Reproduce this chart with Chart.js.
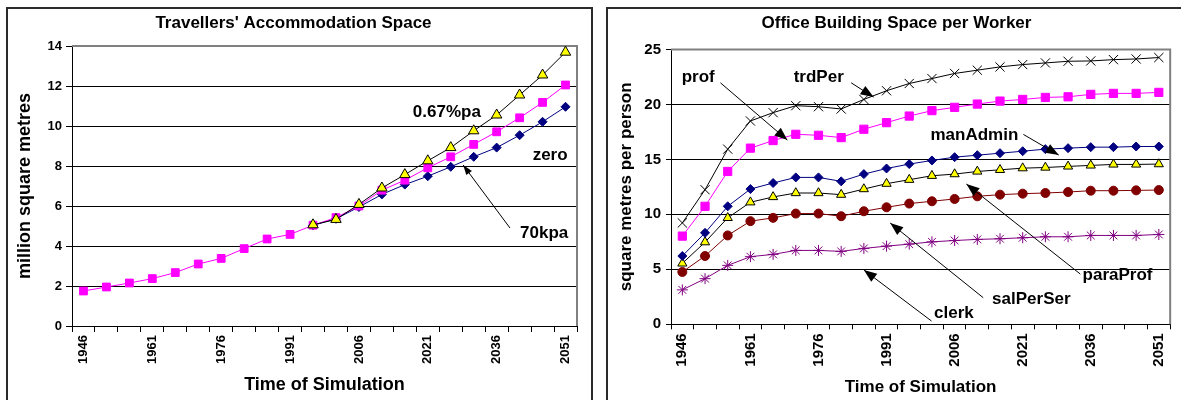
<!DOCTYPE html>
<html>
<head>
<meta charset="utf-8">
<script src="https://cdn.jsdelivr.net/npm/chart.js@4.4.0/dist/chart.umd.min.js"></script>
<style>
  body { margin: 0; width: 1181px; height: 400px; overflow: hidden; background: #fff; position: relative; }
  .panel { position: absolute; top: 7px; height: 430px; border: 2px solid #2b2b2b; box-sizing: border-box; }
  #panelA { left: 6px; width: 587px; }
  #panelB { left: 606px; width: 620px; }
  canvas { position: absolute; top: 0; }
  #accom { left: 0; }
  #office { left: 600px; }
</style>
</head>
<body>
<div class="panel" id="panelA"></div>
<div class="panel" id="panelB"></div>
<canvas id="accom" width="600" height="400"></canvas>
<canvas id="office" width="581" height="400"></canvas>
<script>
const FONT = 'Arial, "Liberation Sans", sans-serif';

// simulation years, one point every 5 years
const years = [1946, 1951, 1956, 1961, 1966, 1971, 1976, 1981, 1986, 1991, 1996,
  2001, 2006, 2011, 2016, 2021, 2026, 2031, 2036, 2041, 2046, 2051];

// travellers' accommodation, million m2
const accomGrowth = [null, null, null, null, null, null, null, null, null, null,
  5.06, 5.33, 6.08, 6.90, 7.57, 8.26, 8.92, 9.76, 10.55, 11.55, 12.55, 13.69];
const accom70kpa = [1.75, 1.95, 2.15, 2.37, 2.67, 3.10, 3.38, 3.87, 4.35, 4.58, 5.04,
  5.42, 6.00, 6.79, 7.29, 7.91, 8.46, 9.08, 9.71, 10.41, 11.18, 12.05];
const accomZero = [null, null, null, null, null, null, null, null, null, null,
  5.03, 5.36, 5.95, 6.58, 7.07, 7.49, 7.96, 8.46, 8.92, 9.54, 10.21, 10.96];

// office space per worker, m2 per person
const trdPer = [9.22, 12.24, 15.93, 18.49, 19.25, 19.88, 19.79, 19.58, 20.45, 21.24, 21.90,
  22.35, 22.81, 23.11, 23.41, 23.62, 23.77, 23.92, 23.95, 24.07, 24.13, 24.26];
const prof = [8.02, 10.73, 13.90, 16.02, 16.71, 17.28, 17.19, 16.98, 17.74, 18.34, 18.94,
  19.43, 19.73, 20.03, 20.30, 20.45, 20.63, 20.69, 20.91, 21.00, 21.00, 21.09];
const manAdmin = [6.21, 8.32, 10.73, 12.30, 12.85, 13.36, 13.36, 13.00, 13.66, 14.17, 14.57,
  14.90, 15.20, 15.38, 15.56, 15.74, 15.93, 16.02, 16.11, 16.11, 16.17, 16.17];
const paraProf = [5.54, 7.47, 9.68, 11.10, 11.58, 11.94, 11.94, 11.79, 12.30, 12.79, 13.15,
  13.51, 13.66, 13.90, 14.05, 14.20, 14.26, 14.36, 14.45, 14.54, 14.54, 14.57];
const salPerSer = [4.76, 6.21, 8.08, 9.38, 9.68, 10.07, 10.07, 9.83, 10.28, 10.64, 10.98,
  11.19, 11.40, 11.64, 11.79, 11.88, 11.94, 12.03, 12.15, 12.15, 12.18, 12.21];
const clerk = [3.13, 4.15, 5.36, 6.15, 6.36, 6.72, 6.72, 6.63, 6.90, 7.11, 7.29,
  7.50, 7.62, 7.72, 7.78, 7.87, 7.96, 7.96, 8.08, 8.08, 8.08, 8.17];

// text labels + arrows, in (category index, value) units
const accomNotes = [
  { text: "0.67%pa", at: [15.83, 10.67] },
  { text: "zero", at: [20.33, 8.55] },
  { text: "70kpa", at: [20.07, 4.65], from: [18.58, 4.9], to: [16.54, 8.05] }
];
const officeNotes = [
  { text: "prof", at: [0.7, 22.42], from: [1.68, 21.96], to: [4.63, 16.75] },
  { text: "trdPer", at: [6.01, 22.42], from: [7.44, 21.96], to: [8.43, 20.66] },
  { text: "manAdmin", at: [12.87, 17.21], from: [15.03, 17.27], to: [16.59, 15.39] },
  { text: "paraProf", at: [19.18, 4.42], from: [17.54, 4.57], to: [12.52, 12.75] },
  { text: "salPerSer", at: [15.38, 2.30], from: [13.26, 2.42], to: [9.16, 9.21] },
  { text: "clerk", at: [11.97, 1.03], from: [10.98, 0.3], to: [8.0, 4.94] }
];

function arrow(ctx, x0, y0, x1, y1, len, half) {
  ctx.beginPath();
  ctx.moveTo(x0, y0);
  ctx.lineTo(x1, y1);
  ctx.stroke();
  const a = Math.atan2(y1 - y0, x1 - x0);
  const bx = x1 - len * Math.cos(a), by = y1 - len * Math.sin(a);
  ctx.beginPath();
  ctx.moveTo(x1, y1);
  ctx.lineTo(bx + half * Math.sin(a), by - half * Math.cos(a));
  ctx.lineTo(bx - half * Math.sin(a), by + half * Math.cos(a));
  ctx.closePath();
  ctx.fill();
}

function notesPlugin(items, headLen, headHalf) {
  return {
    id: 'notes',
    afterDatasetsDraw(chart) {
      const { ctx, scales: { x, y } } = chart;
      ctx.save();
      ctx.font = 'bold 17px ' + FONT;
      ctx.fillStyle = '#000';
      ctx.strokeStyle = '#000';
      ctx.lineWidth = 1;
      ctx.textAlign = 'center';
      ctx.textBaseline = 'middle';
      items.forEach(n => {
        ctx.fillText(n.text, x.getPixelForValue(n.at[0]), y.getPixelForValue(n.at[1]));
        if (n.from) {
          arrow(ctx, x.getPixelForValue(n.from[0]), y.getPixelForValue(n.from[1]),
            x.getPixelForValue(n.to[0]), y.getPixelForValue(n.to[1]), headLen, headHalf);
        }
      });
      ctx.restore();
    }
  };
}

// grey plot-area frame on the top and right
const plotFrame = {
  id: 'plotFrame',
  beforeDatasetsDraw(chart) {
    const { ctx, chartArea: a } = chart;
    ctx.save();
    ctx.strokeStyle = '#808080';
    ctx.lineWidth = 2;
    ctx.beginPath();
    ctx.moveTo(a.left, a.top);
    ctx.lineTo(a.right, a.top);
    ctx.lineTo(a.right, a.bottom);
    ctx.stroke();
    ctx.restore();
  }
};

function makeChart(id, cfg) {
  return new Chart(document.getElementById(id), {
    type: 'line',
    data: { labels: years, datasets: cfg.datasets },
    options: {
      responsive: false,
      animation: false,
      layout: { padding: cfg.padding },
      elements: { line: { tension: 0, borderWidth: 1 } },
      plugins: {
        legend: { display: false },
        tooltip: { enabled: false },
        title: {
          display: true,
          text: cfg.title,
          color: '#000',
          font: { family: FONT, size: 17, weight: 'bold' },
          padding: cfg.titlePad
        }
      },
      scales: {
        x: {
          offset: true,
          afterFit: s => { s.height = cfg.xHeight; },
          grid: { offset: true, drawOnChartArea: false, color: '#000', tickLength: cfg.tick },
          border: { color: '#000', width: 1 },
          ticks: {
            autoSkip: false,
            minRotation: 90,
            maxRotation: 90,
            padding: cfg.xPad,
            color: '#000',
            font: { family: FONT, size: cfg.tickSize, weight: 'bold' },
            callback: function (v, i) { return i % 3 === 0 ? this.getLabelForValue(v) : ''; }
          },
          title: {
            display: true,
            text: 'Time of Simulation',
            color: '#000',
            font: { family: FONT, size: cfg.axisSize, weight: 'bold' },
            padding: { top: 2, bottom: cfg.xTitleBottom }
          }
        },
        y: {
          min: 0,
          max: cfg.yMax,
          afterFit: s => { s.width = cfg.yWidth; },
          grid: { color: '#000', tickLength: cfg.tick },
          border: { color: '#000', width: 1 },
          ticks: {
            stepSize: cfg.yStep,
            padding: cfg.yPad,
            color: '#000',
            font: { family: FONT, size: cfg.tickSize, weight: 'bold' }
          },
          title: {
            display: true,
            text: cfg.yTitle,
            color: '#000',
            font: { family: FONT, size: cfg.axisSize, weight: 'bold' },
            padding: { top: 4, bottom: 0 }
          }
        }
      }
    },
    plugins: [plotFrame, notesPlugin(cfg.notes, cfg.headLen, cfg.headHalf)]
  });
}

makeChart('accom', {
  title: "Travellers' Accommodation Space",
  yTitle: 'million square metres',
  yMax: 14, yStep: 2,
  padding: { left: 10, right: 23, top: 0, bottom: 0 },
  titlePad: { top: 13, bottom: 12.6 },
  xHeight: 74, yWidth: 62, tick: 6, xPad: 3, yPad: 4,
  tickSize: 13, axisSize: 18, xTitleBottom: 4,
  notes: accomNotes, headLen: 10, headHalf: 3.5,
  datasets: [
    { label: '0.67%pa', data: accomGrowth, borderColor: '#000', pointStyle: 'triangle',
      pointRadius: 6, pointBackgroundColor: '#ffff00', pointBorderColor: '#000', pointBorderWidth: 1 },
    { label: '70kpa', data: accom70kpa, borderColor: '#ff00ff', pointStyle: 'rect',
      pointRadius: 5.5, pointBackgroundColor: '#ff00ff', pointBorderColor: '#ff00ff' },
    { label: 'zero', data: accomZero, borderColor: '#000080', pointStyle: 'rectRot',
      pointRadius: 4.5, pointBackgroundColor: '#000080', pointBorderColor: '#000080' }
  ]
});

makeChart('office', {
  title: 'Office Building Space per Worker',
  yTitle: 'square metres per person',
  yMax: 25, yStep: 5,
  padding: { left: 12, right: 0, top: 0, bottom: 0 },
  titlePad: { top: 13, bottom: 16 },
  xHeight: 75.7, yWidth: 59, tick: 5, xPad: 4, yPad: 5,
  tickSize: 15, axisSize: 17, xTitleBottom: 2,
  notes: officeNotes, headLen: 13, headHalf: 5,
  datasets: [
    { label: 'trdPer', data: trdPer, borderColor: '#000', pointStyle: 'crossRot',
      pointRadius: 6.5, pointBorderColor: '#000', pointBorderWidth: 1 },
    { label: 'prof', data: prof, borderColor: '#ff00ff', pointStyle: 'rect',
      pointRadius: 5.8, pointBackgroundColor: '#ff00ff', pointBorderColor: '#ff00ff' },
    { label: 'manAdmin', data: manAdmin, borderColor: '#000080', pointStyle: 'rectRot',
      pointRadius: 4.5, pointBackgroundColor: '#000080', pointBorderColor: '#000080' },
    { label: 'paraProf', data: paraProf, borderColor: '#000', pointStyle: 'triangle',
      pointRadius: 5.3, pointBackgroundColor: '#ffff00', pointBorderColor: '#000', pointBorderWidth: 1 },
    { label: 'salPerSer', data: salPerSer, borderColor: '#800000', pointStyle: 'circle',
      pointRadius: 4.5, pointBackgroundColor: '#800000', pointBorderColor: '#800000' },
    { label: 'clerk', data: clerk, borderColor: '#800080', pointStyle: 'star',
      pointRadius: 5.5, pointBorderColor: '#800080', pointBorderWidth: 1 }
  ]
});
</script>
</body>
</html>
